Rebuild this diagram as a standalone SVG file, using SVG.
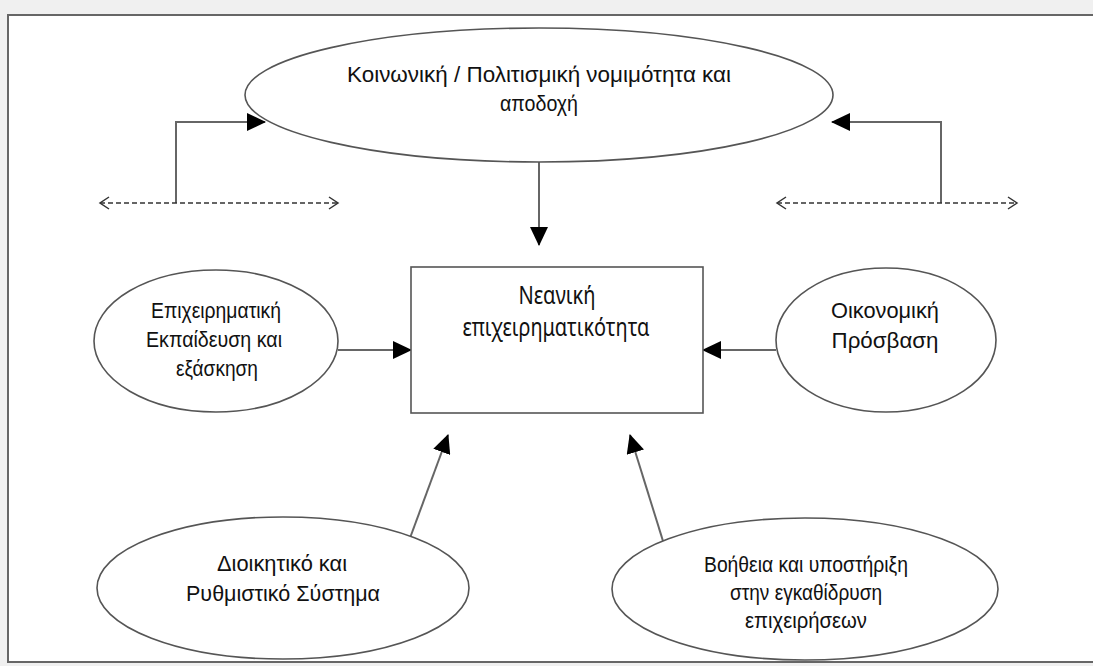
<svg xmlns="http://www.w3.org/2000/svg" width="1093" height="666" viewBox="0 0 1093 666">
<style>
.node{fill:#fff;stroke:#555;stroke-width:1.6}
.t{font-family:"Liberation Sans",Arial,sans-serif;font-size:22px;fill:#111;text-anchor:middle}
.tr{font-family:"Noto Sans","Liberation Sans",sans-serif;font-size:25px;fill:#111;text-anchor:middle}
.c{fill:none;stroke:#666;stroke-width:2}
.d{fill:none;stroke:#333;stroke-width:1.5;stroke-dasharray:5 3}
</style>
<defs>
<marker id="ah" markerUnits="userSpaceOnUse" markerWidth="19" markerHeight="18" refX="18" refY="9" orient="auto">
<path d="M0,0 L19,9 L0,18 z" fill="#000"/>
</marker>
<marker id="ch" markerUnits="userSpaceOnUse" markerWidth="12" markerHeight="14" refX="10" refY="7" orient="auto-start-reverse">
<path d="M1,1 L10,7 L1,13" fill="none" stroke="#333" stroke-width="1.5"/>
</marker>
</defs>
<rect x="0" y="0" width="1093" height="666" fill="#f0f0f0"/>
<rect x="8" y="15" width="1100" height="647" fill="#fff" stroke="#666" stroke-width="2"/>

<g id="connectors">
<path class="c" d="M176,203 V122 H265" marker-end="url(#ah)"/>
<path class="c" d="M941,203 V122 H832" marker-end="url(#ah)"/>
<path class="c" d="M539,162 V245" marker-end="url(#ah)"/>
<path class="c" d="M338,350 H411" marker-end="url(#ah)"/>
<path class="c" d="M776,350 H703" marker-end="url(#ah)"/>
<path class="c" d="M410,538 L448,435" marker-end="url(#ah)"/>
<path class="c" d="M663,541 L630,435" marker-end="url(#ah)"/>
<path class="d" d="M100,203 H338" marker-start="url(#ch)" marker-end="url(#ch)"/>
<path class="d" d="M777,203 H1017" marker-start="url(#ch)" marker-end="url(#ch)"/>
</g>

<g id="n-social">
<ellipse class="node" cx="539" cy="95" rx="294" ry="67"/>
<text class="t" x="539" y="82" textLength="384" lengthAdjust="spacingAndGlyphs">Κοινωνική / Πολιτισμική νομιμότητα και</text>
<text class="t" x="539" y="111" textLength="78" lengthAdjust="spacingAndGlyphs">αποδοχή</text>
</g>

<g id="n-youth">
<rect class="node" x="411" y="267" width="292" height="146" stroke-width="2"/>
<text class="tr" x="557" y="304" textLength="77" lengthAdjust="spacingAndGlyphs">Νεανική</text>
<text class="tr" x="556" y="336" textLength="187" lengthAdjust="spacingAndGlyphs">επιχειρηματικότητα</text>
</g>

<g id="n-education">
<ellipse class="node" cx="216" cy="341" rx="122" ry="71"/>
<text class="t" x="216" y="318" textLength="130" lengthAdjust="spacingAndGlyphs">Επιχειρηματική</text>
<text class="t" x="214" y="347" textLength="136" lengthAdjust="spacingAndGlyphs">Εκπαίδευση και</text>
<text class="t" x="217" y="376" textLength="82" lengthAdjust="spacingAndGlyphs">εξάσκηση</text>
</g>

<g id="n-finance">
<ellipse class="node" cx="886" cy="340" rx="110" ry="72"/>
<text class="t" x="885" y="318" textLength="108" lengthAdjust="spacingAndGlyphs">Οικονομική</text>
<text class="t" x="885" y="348" textLength="107" lengthAdjust="spacingAndGlyphs">Πρόσβαση</text>
</g>

<g id="n-admin">
<ellipse class="node" cx="283" cy="588" rx="186" ry="71"/>
<text class="t" x="282" y="571" textLength="130" lengthAdjust="spacingAndGlyphs">Διοικητικό και</text>
<text class="t" x="283" y="601" textLength="194" lengthAdjust="spacingAndGlyphs">Ρυθμιστικό Σύστημα</text>
</g>

<g id="n-support">
<ellipse class="node" cx="805" cy="589" rx="193" ry="71"/>
<text class="t" x="806" y="572" textLength="204" lengthAdjust="spacingAndGlyphs">Βοήθεια και υποστήριξη</text>
<text class="t" x="806" y="600" textLength="152" lengthAdjust="spacingAndGlyphs">στην εγκαθίδρυση</text>
<text class="t" x="806" y="628" textLength="122" lengthAdjust="spacingAndGlyphs">επιχειρήσεων</text>
</g>
</svg>
